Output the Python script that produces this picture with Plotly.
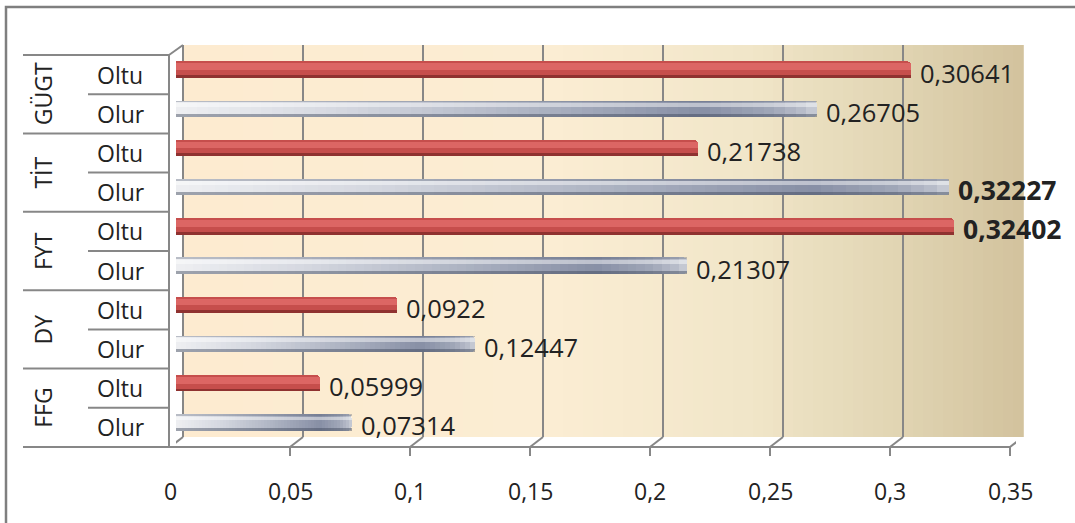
import plotly.graph_objects as go

# ---------------- data ----------------
groups = ["GÜGT", "TİT", "FYT", "DY", "FFG"]
series_names = ["Oltu", "Olur"]
oltu = [0.30641, 0.21738, 0.32402, 0.0922, 0.05999]
olur = [0.26705, 0.32227, 0.21307, 0.12447, 0.07314]
bold_points = [("TİT", "Olur"), ("FYT", "Oltu")]
x_ticks = [0, 0.05, 0.1, 0.15, 0.2, 0.25, 0.3, 0.35]
x_tick_labels = ["0", "0,05", "0,1", "0,15", "0,2", "0,25", "0,3", "0,35"]

# ---------------- layout geometry (pixels) ----------------
W, H = 1075, 523
L, R, T, B = 176, 59, 50, 81
PW, PH = W - L - R, H - T - B
FONT = "Open Sans"
TXT = "#222222"


def X(px):
    return (px - L) / PW


def Y(py):
    return (H - B - py) / PH


def fmt(v):
    return f"{v:.5f}".rstrip("0").replace(".", ",")


def hex2rgb(h):
    h = h.lstrip("#")
    return tuple(int(h[i:i + 2], 16) for i in (0, 2, 4))


def interp(stops, f):
    for (f0, c0), (f1, c1) in zip(stops, stops[1:]):
        if f0 <= f <= f1:
            t = (f - f0) / (f1 - f0) if f1 > f0 else 0
            a, b = hex2rgb(c0), hex2rgb(c1)
            return "rgb(%d,%d,%d)" % tuple(round(a[i] + (b[i] - a[i]) * t) for i in range(3))
    return stops[-1][1]


cats = [f"{g} {s}" for g in groups for s in series_names]
y_oltu = [f"{g} Oltu" for g in groups]
y_olur = [f"{g} Olur" for g in groups]

fig = go.Figure()

VAL_SIZE, BOLD_SIZE, LAB_SIZE = 25.5, 26.5, 23

# ---- Oltu (red cylinders) ----
fig.add_trace(go.Bar(
    name="Oltu", y=y_oltu, x=oltu, orientation="h", width=0.42,
    marker=dict(color="#C64E4C", line=dict(width=0), cornerradius=4), hoverinfo="skip"))
fig.add_trace(go.Bar(
    y=y_oltu, x=oltu, orientation="h", width=0.17, offset=-0.16,
    marker=dict(color="#DC6664", line=dict(width=0)), hoverinfo="skip", showlegend=False))
fig.add_trace(go.Bar(
    y=y_oltu, x=oltu, orientation="h", width=0.07, offset=0.14,
    marker=dict(color="#8F3230", line=dict(width=0)), hoverinfo="skip", showlegend=False))

# ---- Olur (grey/steel cylinders) ----
gray_stops = [(0.0, "#EEEFF2"), (0.25, "#D5D8E0"), (0.55, "#AEB4C3"),
              (0.82, "#878FA5"), (0.93, "#A0A7B8"), (1.0, "#C4C8D2")]
fig.add_trace(go.Bar(
    name="Olur", y=y_olur, x=olur, orientation="h", width=0.42,
    marker=dict(color="#C4C8D2", line=dict(width=0), cornerradius=4), hoverinfo="skip"))
N = 60
for k in range(N - 1, 0, -1):
    frac = k / N
    fig.add_trace(go.Bar(
        y=y_olur, x=[v * frac for v in olur], orientation="h", width=0.42,
        marker=dict(color=interp(gray_stops, (k - 0.5) / N), line=dict(width=0)),
        hoverinfo="skip", showlegend=False))
fig.add_trace(go.Bar(
    y=y_olur, x=olur, orientation="h", width=0.1, offset=-0.15,
    marker=dict(color="rgba(255,255,255,0.45)", line=dict(width=0)),
    hoverinfo="skip", showlegend=False))
fig.add_trace(go.Bar(
    y=y_olur, x=olur, orientation="h", width=0.08, offset=0.13,
    marker=dict(color="rgba(60,68,88,0.45)", line=dict(width=0)),
    hoverinfo="skip", showlegend=False))
fig.add_trace(go.Bar(
    y=y_olur, x=olur, orientation="h", width=0.04, offset=-0.21,
    marker=dict(color="rgba(90,98,118,0.35)", line=dict(width=0)),
    hoverinfo="skip", showlegend=False))

# ---------------- decoration shapes ----------------
shapes = []
wall_stops = [(0.0, "#FDEBD0"), (0.44, "#FBEDD3"), (0.67, "#F1E6C9"),
              (0.85, "#E1D5B3"), (1.0, "#D2C29D")]
x_left, x_right, wall_top, wall_bot = 183, 1023, 45, 437
S = 84
step = (x_right - x_left) / S
for i in range(S):
    a = x_left + i * step
    shapes.append(dict(type="rect", xref="paper", yref="paper",
                       x0=X(a), x1=X(a + step + 0.8), y0=Y(wall_bot), y1=Y(wall_top),
                       fillcolor=interp(wall_stops, (i + 0.5) / S), line=dict(width=0),
                       layer="below"))
GRID = "#878787"
for v in x_ticks:
    shapes.append(dict(type="line", xref="x", xsizemode="pixel", xanchor=v, x0=7, x1=7,
                       yref="paper", y0=Y(wall_bot), y1=Y(wall_top),
                       line=dict(color=GRID, width=2), layer="below"))
    shapes.append(dict(type="line", xref="x", xsizemode="pixel", xanchor=v, x0=-6, x1=7,
                       yref="paper", y0=Y(447), y1=Y(wall_bot),
                       line=dict(color=GRID, width=2), layer="below"))
    shapes.append(dict(type="line", xref="x", xsizemode="pixel", xanchor=v, x0=-6, x1=-6,
                       yref="paper", y0=Y(447), y1=Y(456),
                       line=dict(color=GRID, width=2)))
shapes.append(dict(type="line", xref="paper", yref="paper", x0=X(23), x1=X(1011),
                   y0=Y(447), y1=Y(447), line=dict(color=GRID, width=2)))
shapes.append(dict(type="line", xref="paper", yref="paper", x0=X(169), x1=X(169),
                   y0=Y(55), y1=Y(447), line=dict(color=GRID, width=2)))
shapes.append(dict(type="line", xref="paper", yref="paper", x0=X(169), x1=X(183),
                   y0=Y(55), y1=Y(45), line=dict(color=GRID, width=2)))
row_h = (447 - 55) / len(cats)
for g in range(len(groups) + 1):
    py = 55 + 2 * row_h * g
    shapes.append(dict(type="line", xref="paper", yref="paper", x0=X(23), x1=X(169),
                       y0=Y(py), y1=Y(py), line=dict(color=GRID, width=2)))
for g in range(len(groups)):
    py = 55 + row_h * (2 * g + 1)
    shapes.append(dict(type="line", xref="paper", yref="paper", x0=X(88), x1=X(169),
                       y0=Y(py), y1=Y(py), line=dict(color=GRID, width=2)))
shapes.append(dict(type="rect", xref="paper", yref="paper", x0=X(6), x1=X(1110),
                   y0=Y(560), y1=Y(7), line=dict(color="#7F7F7F", width=2.5),
                   fillcolor="rgba(0,0,0,0)"))

# ---------------- annotations ----------------
ann = []
for s, ys, vals in (("Oltu", y_oltu, oltu), ("Olur", y_olur, olur)):
    for g, yc, v in zip(groups, ys, vals):
        bold = (g, s) in bold_points
        ann.append(dict(text=f"<b>{fmt(v)}</b>" if bold else fmt(v),
                        xref="x", x=v, xshift=7, yref="y", y=yc, yshift=-3,
                        showarrow=False, xanchor="left", yanchor="middle",
                        font=dict(family=FONT, size=BOLD_SIZE if bold else VAL_SIZE, color=TXT)))
for i, g in enumerate(groups):
    ann.append(dict(text=g, xref="paper", x=X(43), yref="y", y=2 * i + 0.5, yshift=-5,
                    textangle=-90, showarrow=False, xanchor="center", yanchor="middle",
                    font=dict(family=FONT, size=LAB_SIZE, color=TXT)))
for c in cats:
    ann.append(dict(text=c.split(" ")[-1], xref="paper", x=X(95), yref="y", y=c, yshift=-5,
                    showarrow=False, xanchor="left", yanchor="middle",
                    font=dict(family=FONT, size=LAB_SIZE, color=TXT)))
for v, lab in zip(x_ticks, x_tick_labels):
    ann.append(dict(text=lab, xref="x", x=v, xshift=-6, yref="paper", y=Y(491),
                    showarrow=False, xanchor="center", yanchor="middle",
                    font=dict(family=FONT, size=LAB_SIZE, color=TXT)))

fig.update_layout(
    width=W, height=H, margin=dict(l=L, r=R, t=T, b=B),
    paper_bgcolor="white", plot_bgcolor="rgba(0,0,0,0)",
    barmode="overlay", bargap=0, showlegend=False,
    xaxis=dict(range=[0, 0.35], showticklabels=False, showgrid=False, zeroline=False,
               showline=False, ticks=""),
    yaxis=dict(type="category", categoryorder="array", categoryarray=cats,
               range=[len(cats) - 0.5, -0.5], showticklabels=False, showgrid=False,
               zeroline=False, showline=False, ticks=""),
    shapes=shapes, annotations=ann,
)

fig.write_html("out.html", config={"displayModeBar": False, "staticPlot": True},
               post_script="document.body.style.margin='0';document.body.style.overflow='hidden';")
